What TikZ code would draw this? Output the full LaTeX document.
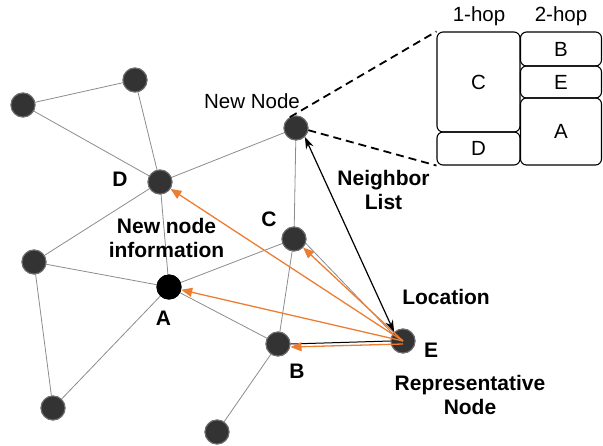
\documentclass[tikz,border=0pt]{standalone}
\usepackage{fontspec}
\setmainfont{Liberation Sans}
\usetikzlibrary{arrows.meta}

\definecolor{nodegray}{HTML}{333333}
\definecolor{rimgray}{HTML}{6E6E6E}
\definecolor{linkgray}{HTML}{8C8C8C}
\definecolor{msgorange}{HTML}{ED7D31}

\begin{document}
\begin{tikzpicture}[x=1pt,y=-1pt,
  vertex/.style={circle,fill=nodegray,draw=rimgray,line width=1pt,minimum size=24pt,inner sep=0pt},
  link/.style={draw=linkgray,line width=0.8pt},
  msg/.style={draw=msgorange,line width=1.3pt,-{Triangle[length=11pt,width=9pt]}},
  lbl/.style={font=\bfseries\fontsize{21}{24.5}\selectfont,align=center,inner sep=0pt},
  plain/.style={font=\fontsize{20.5}{24}\selectfont,inner sep=0pt},
  cell/.style={draw=black,line width=1.1pt,rounded corners=6pt,inner sep=0pt,
    font=\fontsize{20.5}{24}\selectfont},
  zoomline/.style={draw=black,line width=1.8pt,dash pattern=on 8pt off 5pt}
]
\useasboundingbox (0,0) rectangle (603,445);

% network nodes
\node[vertex] (tm) at (135,80) {};
\node[vertex] (tl) at (23,105) {};
\node[vertex] (d)  at (160,182) {};
\node[vertex] (nn) at (296,128) {};
\node[vertex] (c)  at (294,239) {};
\node[vertex] (l)  at (34,262) {};
\node[vertex,fill=black,draw=black] (a) at (169,287) {};
\node[vertex] (b)  at (278,344) {};
\node[vertex] (e)  at (403,341) {};
\node[vertex] (bl) at (53,408) {};
\node[vertex] (bo) at (217,432) {};

% radio links
\path[link]
  (tl.center) -- (tm.center)
  (tl.center) -- (d.center)
  (tm.center) -- (d.center)
  (d.center) -- (nn.center)
  (d.center) -- (l.center)
  (d.center) -- (a.center)
  (nn.center) -- (c.center)
  (c.center) -- (a.center)
  (c.center) -- (b.center)
  (l.center) -- (a.center)
  (l.center) -- (bl.center)
  (a.center) -- (b.center)
  (a.center) -- (bl.center)
  (b.center) -- (bo.center);
\draw[link] (c.-20) -- (e.145);
\draw[black,line width=1pt] (b.east) -- (e.west);

% redraw nodes above the links
\node[vertex] at (tm) {};
\node[vertex] at (tl) {};
\node[vertex] at (d) {};
\node[vertex] at (nn) {};
\node[vertex] at (c) {};
\node[vertex] at (l) {};
\node[vertex,fill=black,draw=black] at (a) {};
\node[vertex] at (b) {};
\node[vertex] at (bl) {};
\node[vertex] at (bo) {};
\node[vertex] at (e) {};

% information sent by the representative node
\draw[msg] (e.center) -- (d);
\draw[msg] (e.center) -- (c);
\draw[msg] (e.center) -- (a);
\draw[msg] ([yshift=-3pt]e.center) -- ([yshift=-3pt]b.east);

% neighbor list exchange
\draw[black,line width=1.2pt,{Stealth[length=12pt,width=8pt]}-{Stealth[length=12pt,width=8pt]}]
  (nn.south east) -- (e.north west);

% labels
\node[plain] (nnl) at (252,101) {New Node};
\node[lbl] (dl) at (120,179) {D};
\node[lbl] (cl) at (269,219) {C};
\node[lbl] (al) at (163.5,318) {A};
\node[lbl] (bll) at (297,371) {B};
\node[lbl] (el) at (431,350) {E};
\node[lbl] (info) at (166.5,238) {New node\\information};
\node[lbl] (nbl) at (383.5,190) {Neighbor\\List};
\node[lbl] (loc) at (446,297) {Location};
\node[lbl] (rep) at (470,395) {Representative\\Node};

% neighbor table of the new node
\node[plain] (h1) at (479,16) {1-hop};
\node[plain] (h2) at (561,16) {2-hop};
\node[cell,minimum width=83pt,minimum height=100pt] (tc) at (478.5,82) {C};
\node[cell,minimum width=83pt,minimum height=33pt] (td) at (478.5,148.5) {D};
\node[cell,minimum width=81pt,minimum height=34pt] (tb) at (561,49) {B};
\node[cell,minimum width=81pt,minimum height=32pt] (te) at (561,82) {E};
\node[cell,minimum width=81pt,minimum height=67pt] (ta) at (561,131.5) {A};

\draw[zoomline] (nn.120) -- (tc.north west);
\draw[zoomline] (nn.-10) -- (td.south west);
\end{tikzpicture}
\end{document}
